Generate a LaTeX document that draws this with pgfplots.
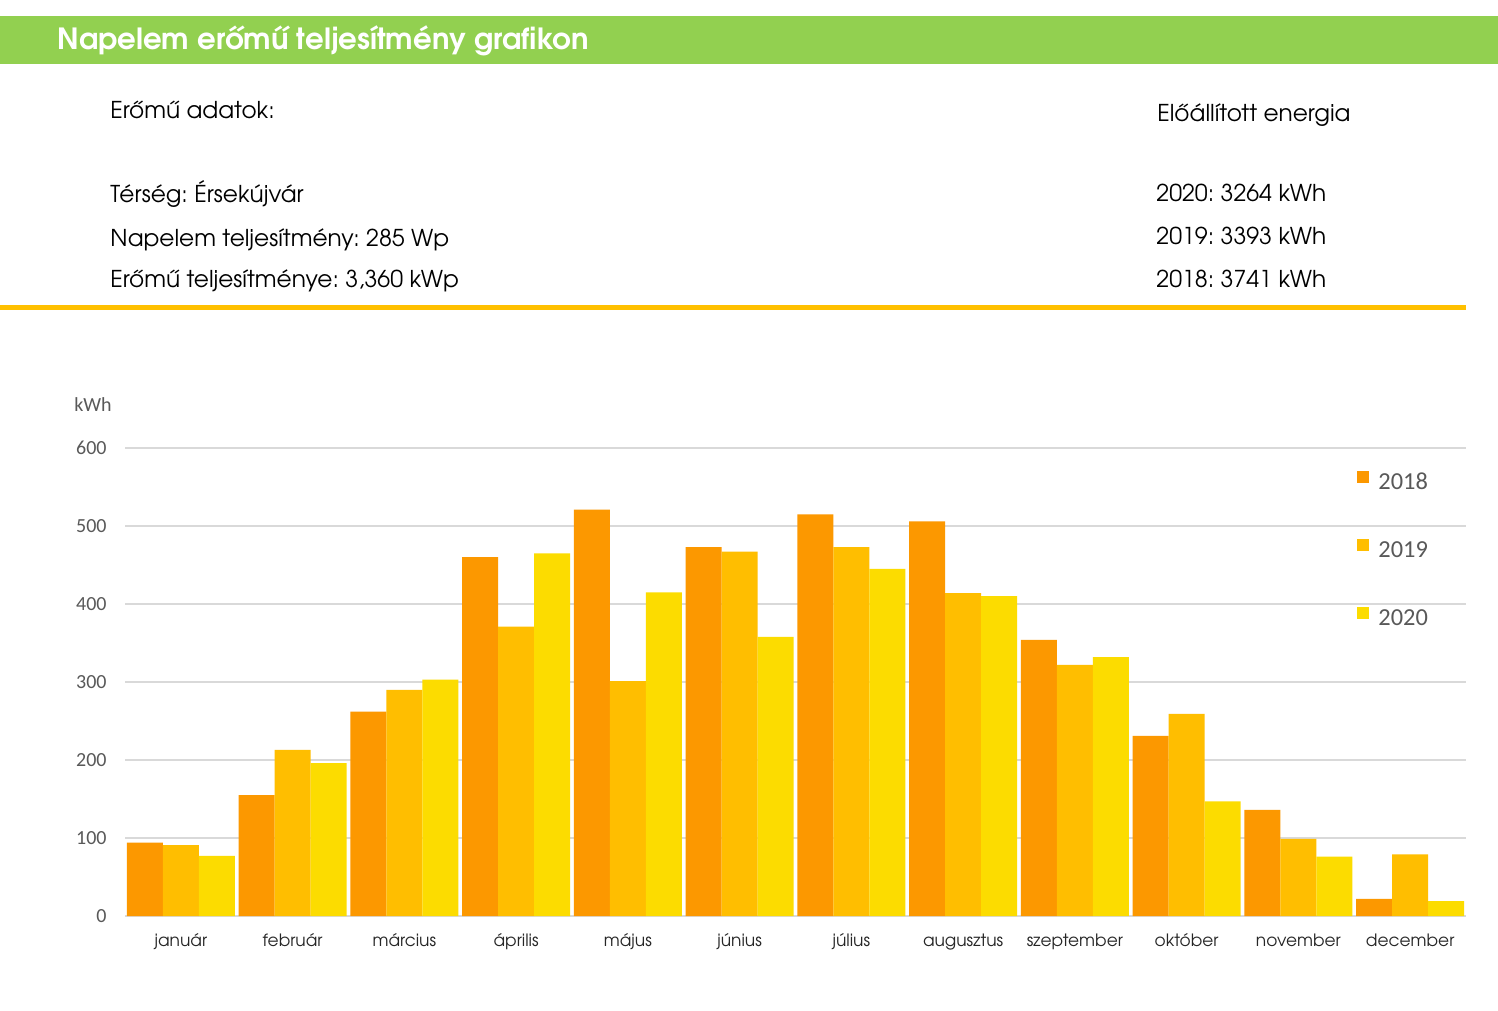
\documentclass[border=0pt]{standalone}
\usepackage{fontspec}
\setmainfont{TeX Gyre Adventor}
\newfontfamily\carlito{Carlito}
\usepackage{pgfplots}
\pgfplotsset{compat=1.18}

\definecolor{hdrgreen}{HTML}{92D050}
\definecolor{lineor}{HTML}{FFC000}
\definecolor{cA}{HTML}{FC9800}
\definecolor{cB}{HTML}{FFBE00}
\definecolor{cC}{HTML}{FCDC00}
\definecolor{gridgray}{HTML}{D9D9D9}
\definecolor{txtgray}{HTML}{595959}

\begin{document}
\frenchspacing
\begin{tikzpicture}
% header, 1 unit = 1 px of the page
\begin{scope}[x=0.5pt,y=-0.5pt]
  \fill[white] (0,0) rectangle (1498,1011);
  \path[use as bounding box] (0,0) rectangle (1498,1011);
  \fill[hdrgreen] (0,16) rectangle (1498,64);
  \node[anchor=base west, inner sep=0pt, text=white, font=\fontsize{14.6}{17}\selectfont\bfseries]
    at (57,50) {Napelem erőmű teljesítmény grafikon};
  \begin{scope}[every node/.style={anchor=base west, inner sep=0pt, font=\fontsize{11.6}{14}\selectfont}]
    \node at (110,119) {Erőmű adatok:};
    \node at (110,202) {Térség: Érsekújvár};
    \node at (110,246) {Napelem teljesítmény: 285 Wp};
    \node at (110,287) {Erőmű teljesítménye: 3,360 kWp};
    \node at (1157,121) {Előállított energia};
    \node at (1156,201) {2020: 3264 kWh};
    \node at (1156,244) {2019: 3393 kWh};
    \node at (1156,287) {2018: 3741 kWh};
  \end{scope}
  \fill[lineor] (0,305) rectangle (1466,310);
  \node[text=txtgray, font=\carlito\fontsize{10}{12}\selectfont] at (93,405) {kWh};
\end{scope}

\begin{axis}[
    at={(62.5pt,-458pt)}, anchor=south west,
    scale only axis, width=670.5pt, height=234pt,
    ybar=0pt, bar width=18pt,
    xmin=-0.5, xmax=11.5, ymin=0, ymax=600,
    xtick={0,...,11},
    xticklabels={január,február,március,április,május,június,július,augusztus,szeptember,október,november,december},
    ytick={0,100,...,600},
    major tick length=0pt,
    axis line style={draw=none},
    ymajorgrids, grid style={gridgray, line width=0.7pt},
    /pgf/number format/assume math mode=true,
    yticklabel style={font=\carlito\fontsize{10}{12}\selectfont, text=txtgray, anchor=east, inner sep=0pt, xshift=-9pt},
    xticklabel style={font=\fontsize{8.5}{10}\selectfont, text=black!85, anchor=base, inner sep=0pt, yshift=-15pt},
    legend style={at={(0.9187,0.952)}, anchor=north west, draw=none, fill=none, inner sep=0pt,
      font=\carlito\fontsize{12.2}{14}\selectfont, text=txtgray,
      nodes={inner sep=0pt, text height=8pt, text depth=1pt}, row sep=23.5pt},
    legend image code/.code={\fill[#1] (0pt,0pt) rectangle (6pt,6pt);},
    legend cell align=left,
  ]
  \addplot[fill=cA, draw=none] coordinates {
    (0,94) (1,155) (2,262) (3,460) (4,521) (5,473) (6,515) (7,506) (8,354) (9,231) (10,136) (11,22)};
  \addlegendentry{\hspace{4.5pt}2018}
  \addplot[fill=cB, draw=none] coordinates {
    (0,91) (1,213) (2,290) (3,371) (4,301) (5,467) (6,473) (7,414) (8,322) (9,259) (10,99) (11,79)};
  \addlegendentry{\hspace{4.5pt}2019}
  \addplot[fill=cC, draw=none] coordinates {
    (0,77) (1,196) (2,303) (3,465) (4,415) (5,358) (6,445) (7,410) (8,332) (9,147) (10,76) (11,19)};
  \addlegendentry{\hspace{4.5pt}2020}
\end{axis}
\end{tikzpicture}
\end{document}
